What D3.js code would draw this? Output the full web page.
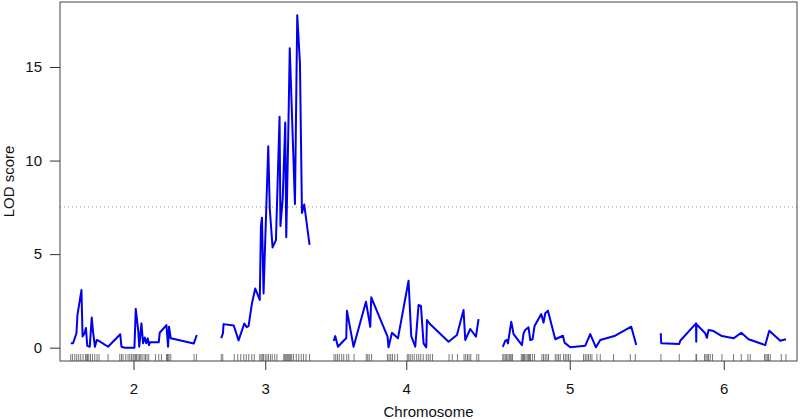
<!DOCTYPE html>
<html>
<head>
<meta charset="utf-8">
<script src="https://cdn.jsdelivr.net/npm/d3@7"></script>
<style>
	body { margin: 0; background: #fff; }
	svg { font-family: 'Liberation Sans', Arial, sans-serif; }
</style>
</head>
<body>
<script>
const chromosomes = ['2', '3', '4', '5', '6']
const chrLength = [126.5, 89, 145, 134, 126] // cM
const threshold = 7.52
const yTicks = [0, 5, 10, 15]

// marker positions (cM) for the rug
const markers2 = [0.5, 2.2, 4.5, 6.5, 8.5, 10.5, 12.8, 15.2, 16.5, 17.2, 18.5, 20.2, 22.2, 24.5, 26.8, 28.8, 37.8, 49.5, 51.2, 52.8, 55.5, 57.8, 59.5, 61.2, 62.8, 63.8, 65.2, 66.2, 67.8, 69.2, 70.5, 71.8, 73.8, 75.2, 76.8, 78.5, 85.2, 88.5, 91.2, 96.2, 97.2, 97.8, 98.8, 100.5, 123.8, 126.2]
const markers3 = [0.5, 2, 13.5, 17, 20, 23, 25.5, 28, 31, 33.5, 39, 40.3, 41.5, 42.8, 44.5, 46.2, 47.8, 49.8, 51.5, 54, 56.2, 63, 64, 65, 66, 67, 68, 69, 70, 71, 72.8, 75.5, 78, 80.5, 82.8, 85.3, 88.8]
const markers4 = [0.3, 2, 3.7, 5.5, 8, 10, 13, 15, 20.3, 32.5, 34, 35.5, 37.8, 53.7, 55.3, 57, 58.7, 61, 63.7, 73.5, 75, 76.5, 78.5, 80.5, 83, 85, 87, 89.5, 92.5, 94.5, 96.5, 98.8, 115.3, 118.5, 123.7, 130.3, 132, 133.7, 135.3, 137, 143, 145]
const markers5 = [0, 1.2, 2.5, 3.8, 5.2, 6.5, 7.5, 8.5, 9.8, 18.5, 19.8, 20.8, 21.8, 23.2, 24.5, 25.8, 26.8, 27.8, 29.8, 31.8, 39.2, 40.8, 42.5, 44.2, 45.8, 52.5, 54.2, 55.8, 57.5, 60.8, 62.5, 64.2, 65.8, 67.5, 80.8, 82.5, 84.2, 85.8, 87.5, 89.2, 94.2, 97.5, 110.8, 127.5, 132.5]
const markers6 = [0.2, 18.5, 35.2, 35.8, 43.8, 45.2, 46.5, 47.8, 49.5, 51.8, 61.2, 72.8, 80.5, 87.2, 89.5, 103.8, 105.2, 106.5, 107.8, 109.5, 120.5, 125.2]

// LOD curve [cM, LOD]
const lod2 = [[0.5, 0.24], [2.8, 0.24], [6.2, 0.77], [7.2, 1.75], [11.2, 3.08], [12.3, 0.6], [14, 0.75], [15.7, 1.05], [17, 0.1], [19.5, 0.05], [21.5, 1.62], [22.8, 0.85], [24.7, 0.05], [26.5, 0.41], [29, 0.35], [37.8, 0.05], [50, 0.72], [51.2, 0.05], [54.5, 0], [64.2, 0], [65.5, 2.08], [68, 0.9], [69, 0.05], [71.2, 1.3], [72.8, 0.24], [74.5, 0.55], [76, 0.24], [77.5, 0.5], [78.7, 0.14], [79.8, 0.29], [88.5, 0.29], [89.5, 0.8], [96.2, 1.21], [97.8, 0.05], [98.8, 1.12], [100.5, 0.5], [123.5, 0.22], [126.5, 0.68]]
const lod3 = [[0.5, 0.51], [2.2, 0.77], [2.8, 1.26], [13, 1.19], [17.8, 0.39], [23.5, 1.29], [26, 1.1], [27.8, 1.15], [31.2, 2.37], [34.5, 3.16], [39, 2.55], [40.2, 6.5], [41.2, 6.95], [42.8, 2.9], [47.5, 10.77], [49, 7.45], [51.8, 5.36], [55.2, 5.75], [58.8, 12.34], [59.7, 6.5], [62, 8.0], [64.5, 12.04], [65.5, 5.9], [67.5, 11.36], [69, 16.0], [74.2, 7.68], [76.5, 17.77], [79.2, 15.2], [81.2, 7.2], [83.5, 7.65], [88.8, 5.5]]
const lod4 = [[0, 0.36], [1.5, 0.62], [4.2, 0.05], [9.8, 0.37], [12.5, 0.5], [13.2, 1.98], [19.8, 0.05], [32.2, 2.46], [36.5, 1.12], [37.5, 2.69], [53.8, 0.59], [54.8, 0.02], [58.2, 0.8], [64.2, 0.5], [74.8, 3.58], [77.5, 0.62], [81.5, 0.05], [84.8, 2.28], [87.2, 2.23], [89.8, 0.23], [92.5, 0.02], [93.2, 1.48], [96.5, 1.25], [114.8, 0.32], [123.2, 0.68], [129.8, 2.01], [131.5, 0.41], [136.5, 1.0], [142.2, 0.59], [144.8, 1.53]]
const lod5 = [[0, 0.05], [2.5, 0.37], [4.2, 0.41], [5.2, 0.23], [8.5, 1.39], [10.8, 0.73], [19.2, 0.14], [20.8, 0.77], [22.5, 0.95], [25.8, 1.09], [27.5, 0.41], [29.8, 0.45], [31.8, 1.16], [38.5, 1.8], [40.8, 1.34], [42.5, 1.84], [45.2, 1.98], [52.5, 0.45], [60.2, 0.64], [61.8, 0.27], [67.5, 0.02], [82.5, 0.11], [87.5, 0.73], [93.2, 0.02], [97.5, 0.41], [112.5, 0.64], [128.5, 1.12], [133.5, 0.14]]
const lod6 = [[0, 0.77], [0.5, 0.24], [18.5, 0.2], [19.5, 0.37], [35.3, 1.3], [35.5, 0.32], [35.7, 1.25], [44.5, 0.77], [46.2, 0.53], [47.8, 0.95], [52.8, 0.89], [61.2, 0.62], [72.8, 0.5], [80.5, 0.8], [87.8, 0.45], [104.5, 0.14], [108.5, 0.91], [119.5, 0.37], [125.2, 0.45]]

const markers = [markers2, markers3, markers4, markers5, markers6]
const lods = [lod2, lod3, lod4, lod5, lod6]

const width = 800, height = 419
const plot = { left: 60, right: 797, top: 2, bottom: 361 }
const gap = 24

// cumulative start of each chromosome on a single cM axis
const start = []
let acc = 0
chrLength.forEach((len, i) => { start.push(acc); acc += len + gap })
const total = acc - gap
const pad = (plot.right - plot.left - total) / 2 // px per cM is ~1

const x = d3.scaleLinear().domain([-pad, total + pad]).range([plot.left, plot.right])
const y = d3.scaleLinear().domain([0, 15]).range([347.7, 67])

const svg = d3.select('body').append('svg').attr('width', width).attr('height', height)

// threshold
svg.append('line')
	.attr('x1', plot.left).attr('x2', plot.right)
	.attr('y1', y(threshold)).attr('y2', y(threshold))
	.attr('stroke', '#8a8a8a').attr('stroke-width', 1).attr('stroke-dasharray', '1,3')

// rug
chromosomes.forEach((c, i) => {
	svg.append('g').selectAll('line').data(markers[i]).join('line')
		.attr('x1', d => x(start[i] + d)).attr('x2', d => x(start[i] + d))
		.attr('y1', plot.bottom - 7).attr('y2', plot.bottom)
		.attr('stroke', '#555').attr('stroke-width', 0.8)
})

// LOD curves
const line = d3.line().x(d => x(d.s + d.p[0])).y(d => y(d.p[1]))
chromosomes.forEach((c, i) => {
	svg.append('path')
		.datum(lods[i].map(p => ({ s: start[i], p })))
		.attr('d', line)
		.attr('fill', 'none').attr('stroke', '#0000ee').attr('stroke-width', 2)
		.attr('stroke-linejoin', 'round')
})

// box
svg.append('rect')
	.attr('x', plot.left).attr('y', plot.top)
	.attr('width', plot.right - plot.left).attr('height', plot.bottom - plot.top)
	.attr('fill', 'none').attr('stroke', '#444').attr('stroke-width', 1)

// y axis
const yAxis = svg.append('g').attr('transform', `translate(${plot.left},0)`)
	.call(d3.axisLeft(y).tickValues(yTicks).tickSize(10).tickPadding(8).tickSizeOuter(0))
yAxis.select('.domain').remove()
yAxis.selectAll('text').attr('font-size', 15).attr('font-family', null).attr('fill', '#111')
yAxis.selectAll('line').attr('stroke', '#333')

// x axis
const mids = chromosomes.map((c, i) => start[i] + chrLength[i] / 2)
const xAxis = svg.append('g').attr('transform', `translate(0,${plot.bottom})`)
	.call(d3.axisBottom(x).tickValues(mids).tickFormat((_, i) => chromosomes[i]).tickSize(9).tickPadding(13).tickSizeOuter(0))
xAxis.select('.domain').remove()
xAxis.selectAll('text').attr('font-size', 15).attr('font-family', null).attr('fill', '#111')
xAxis.selectAll('line').attr('stroke', '#333')

svg.append('text')
	.attr('transform', `translate(14,${(plot.top + plot.bottom) / 2}) rotate(-90)`)
	.attr('text-anchor', 'middle').attr('font-size', 15).attr('fill', '#111')
	.text('LOD score')

svg.append('text')
	.attr('x', (plot.left + plot.right) / 2).attr('y', 417)
	.attr('text-anchor', 'middle').attr('font-size', 15).attr('fill', '#111')
	.text('Chromosome')
</script>
</body>
</html>
